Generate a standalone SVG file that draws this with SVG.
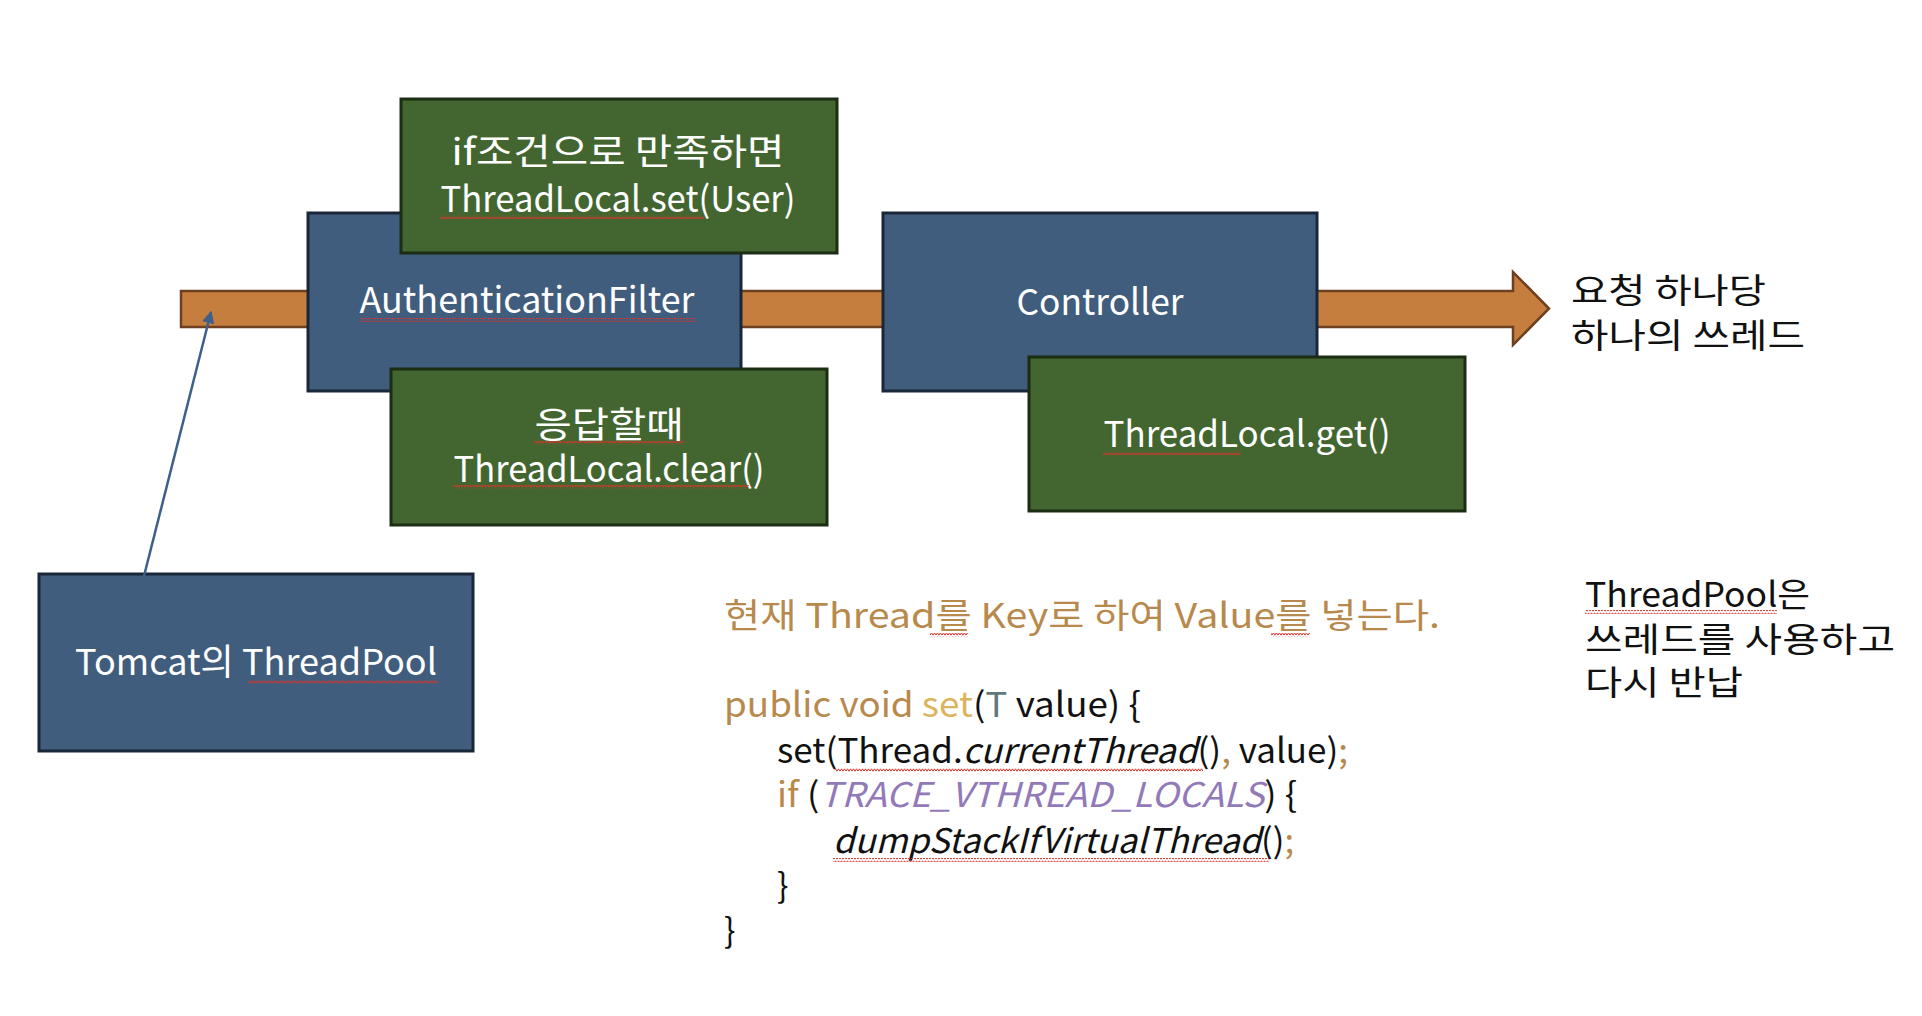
<svg xmlns="http://www.w3.org/2000/svg" width="1922" height="1016" viewBox="0 0 1922 1016">
<style>
text{font-family:"Noto Sans CJK KR","Noto Sans",sans-serif}
.blue{fill:#415D7D;stroke:#1A2738;stroke-width:3}
.green{fill:#436630;stroke:#1B2D12;stroke-width:3}
.lbl{fill:#ffffff;font-size:36px;text-anchor:middle}
.note{fill:#111111;font-size:34px}
.code{font-size:34px;fill:#111111}
.gold{fill:#B8894C}
.lgold{fill:#DDB45E}
.teal{fill:#5F7A78}
.purple{fill:#9279B8}
.it{font-style:italic}
.sq{fill:url(#squig)}
</style>
<defs>
<pattern id="squig" width="6" height="4" patternUnits="userSpaceOnUse">
<path d="M0 3.2 L1.5 0.8 L3 3.2 L4.5 0.8 L6 3.2" fill="none" stroke="#D9342B" stroke-width="1"/>
</pattern>
<marker id="ah" viewBox="0 0 10 10" refX="9" refY="5" markerWidth="5" markerHeight="5" orient="auto">
<path d="M0 0 L10 5 L0 10 z" fill="#3E5F8A"/>
</marker>
</defs>
<rect width="1922" height="1016" fill="#ffffff"/>

<g id="thread-flow">
<polygon points="181,291 1513,291 1513,272 1549,308.5 1513,345 1513,327 181,327" fill="#C57E3E" stroke="#6E4020" stroke-width="2.5"/>
</g>

<g id="auth-filter">
<rect class="blue" x="308" y="213" width="433" height="178"/>
<text class="lbl" x="527" y="313" textLength="335" lengthAdjust="spacingAndGlyphs">AuthenticationFilter</text>
<rect class="sq" x="360" y="318" width="336" height="4"/>
</g>

<g id="controller">
<rect class="blue" x="883" y="213" width="434" height="178"/>
<text class="lbl" x="1100" y="315" textLength="167" lengthAdjust="spacingAndGlyphs">Controller</text>
</g>

<g id="set-user">
<rect class="green" x="401" y="99" width="436" height="154"/>
<text class="lbl" x="618" y="165" textLength="333" lengthAdjust="spacingAndGlyphs">if조건으로 만족하면</text>
<text class="lbl" x="618" y="212" textLength="355" lengthAdjust="spacingAndGlyphs">ThreadLocal.set(User)</text>
<rect class="sq" x="440" y="215" width="264" height="4"/>
</g>

<g id="clear">
<rect class="green" x="391" y="369" width="436" height="156"/>
<text class="lbl" x="609" y="438" textLength="149" lengthAdjust="spacingAndGlyphs">응답할때</text>
<text class="lbl" x="609" y="482" textLength="311" lengthAdjust="spacingAndGlyphs">ThreadLocal.clear()</text>
<rect class="sq" x="534" y="441" width="150" height="4"/>
<rect class="sq" x="453" y="485" width="296" height="4"/>
</g>

<g id="get">
<rect class="green" x="1029" y="357" width="436" height="154"/>
<text class="lbl" x="1247" y="447" textLength="287" lengthAdjust="spacingAndGlyphs">ThreadLocal.get()</text>
<rect class="sq" x="1103" y="451" width="138" height="4"/>
</g>

<g id="tomcat-pool">
<rect class="blue" x="39" y="574" width="434" height="177"/>
<text class="lbl" x="256" y="675" textLength="362" lengthAdjust="spacingAndGlyphs">Tomcat의 ThreadPool</text>
<rect class="sq" x="248" y="680" width="190" height="4"/>
</g>

<g id="connectors">
<line x1="144" y1="576" x2="211" y2="312" stroke="#3E5F8A" stroke-width="2.5" marker-end="url(#ah)"/>
</g>

<g id="per-request-note">
<text class="note" x="1571" y="303" textLength="195" lengthAdjust="spacingAndGlyphs">요청 하나당</text>
<text class="note" x="1571" y="348" textLength="234" lengthAdjust="spacingAndGlyphs">하나의 쓰레드</text>
</g>

<g id="pool-note">
<text class="note" x="1585" y="607" textLength="225" lengthAdjust="spacingAndGlyphs">ThreadPool은</text>
<text class="note" x="1585" y="652" textLength="310" lengthAdjust="spacingAndGlyphs">쓰레드를 사용하고</text>
<text class="note" x="1585" y="695" textLength="158" lengthAdjust="spacingAndGlyphs">다시 반납</text>
<rect class="sq" x="1585" y="610" width="192" height="4"/>
</g>

<g id="code">
<text class="code gold" x="724" y="628" textLength="716" lengthAdjust="spacingAndGlyphs">현재 Thread를 Key로 하여 Value를 넣는다.</text>
<rect class="sq" x="930" y="633" width="38" height="4"/>
<rect class="sq" x="1271" y="633" width="39" height="4"/>
<text class="code" x="724" y="717" textLength="417" lengthAdjust="spacingAndGlyphs"><tspan class="gold">public void </tspan><tspan class="lgold">set</tspan>(<tspan class="teal">T</tspan> value) {</text>
<text class="code" x="777" y="763" textLength="571" lengthAdjust="spacingAndGlyphs">set(Thread.<tspan class="it">currentThread</tspan>()<tspan class="gold">,</tspan> value)<tspan class="gold">;</tspan></text>
<rect class="sq" x="835" y="768" width="368" height="4"/>
<text class="code" x="777" y="807" textLength="520" lengthAdjust="spacingAndGlyphs"><tspan class="gold">if</tspan> (<tspan class="it purple">TRACE_VTHREAD_LOCALS</tspan>) {</text>
<text class="code" x="833" y="853" textLength="461" lengthAdjust="spacingAndGlyphs"><tspan class="it">dumpStackIfVirtualThread</tspan>()<tspan class="gold">;</tspan></text>
<rect class="sq" x="833" y="858" width="436" height="4"/>
<text class="code" x="777" y="898">}</text>
<text class="code" x="724" y="943">}</text>
</g>
</svg>
